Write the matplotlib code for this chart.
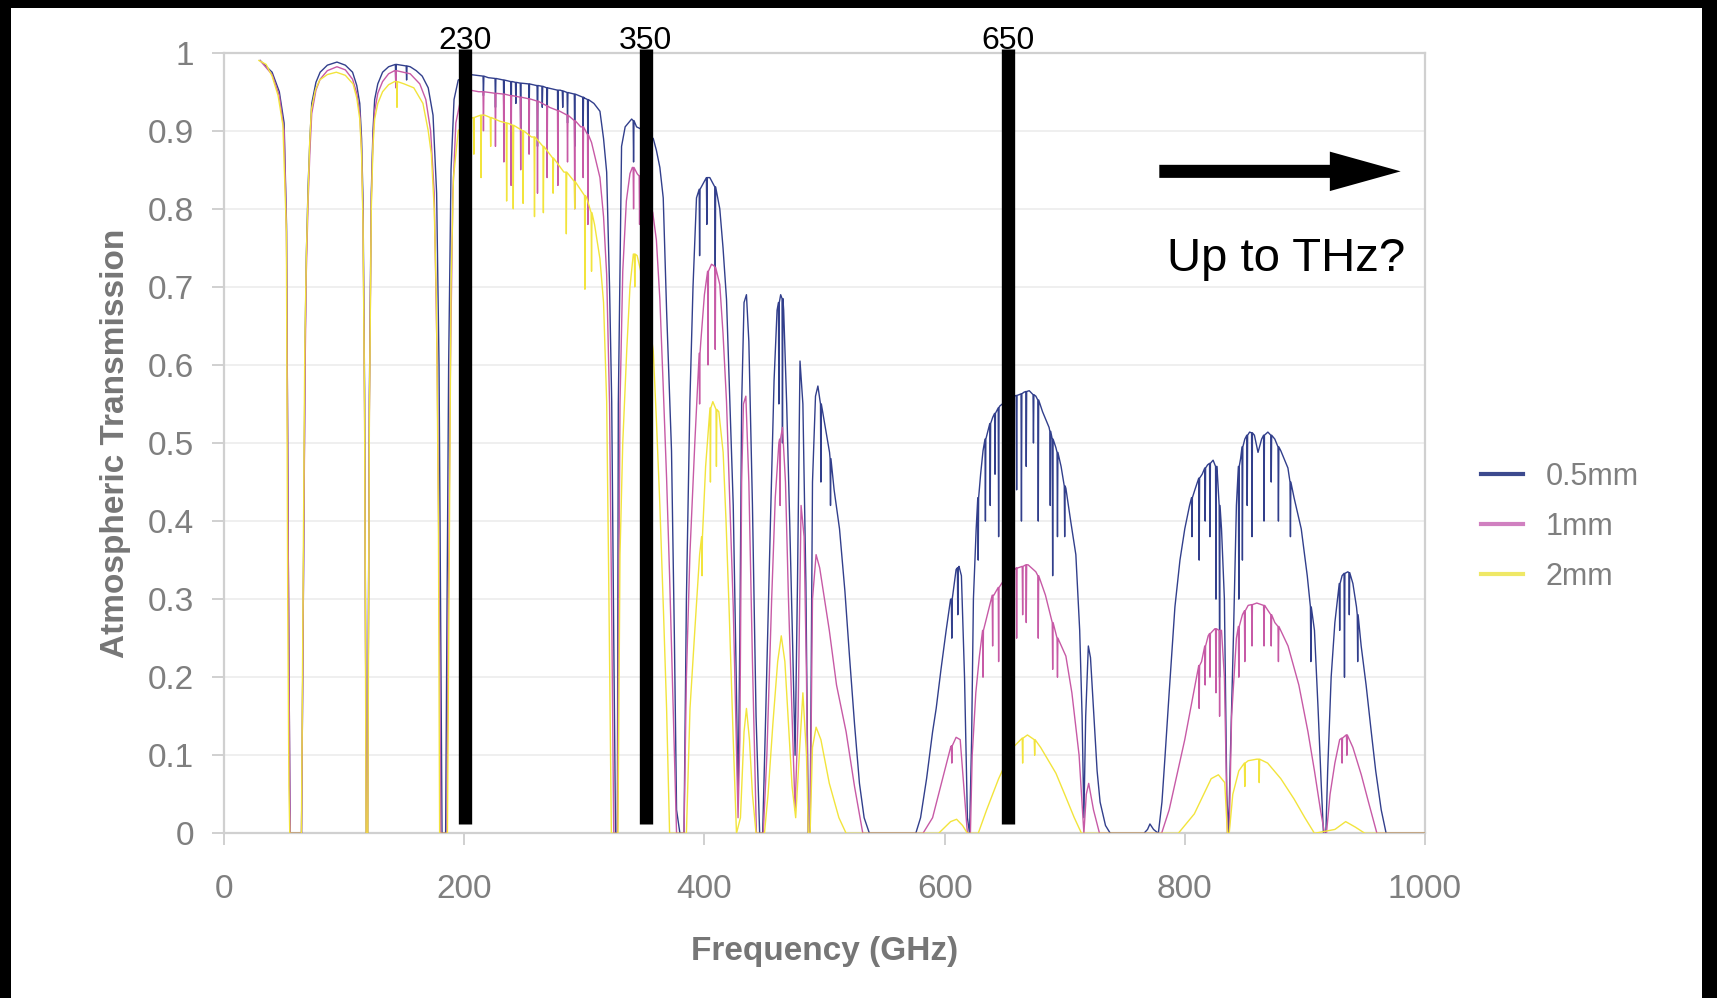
#!/usr/bin/env python3
"""Atmospheric transmission vs frequency for three water-vapour columns,
with the 230 / 350 / 650 GHz bands marked."""

import numpy as np
import matplotlib
matplotlib.use('Agg')
import matplotlib.pyplot as plt
from matplotlib.lines import Line2D
from matplotlib.patches import Rectangle

plt.rcParams['font.family'] = ['Liberation Sans', 'DejaVu Sans']

# Envelope of each curve, (GHz, transmission)
env_05 = [
    (30, 0.99), (40, 0.975), (46, 0.95), (50, 0.91), (52, 0.78), (53.5, 0.35), (55, 0), (64.5, 0),
    (66, 0.3), (67.5, 0.63), (68.5, 0.74), (70, 0.83), (71.5, 0.89), (73, 0.935), (76.5, 0.962),
    (80, 0.975), (86, 0.984), (94, 0.988), (101, 0.984), (107, 0.975), (110.5, 0.958), (113, 0.935),
    (114.5, 0.89), (115.7, 0.81), (117, 0.57), (118.5, 0), (119.5, 0), (121, 0.56), (122.6, 0.82),
    (124, 0.9), (125.4, 0.94), (128, 0.96), (132, 0.975), (137, 0.982), (143.5, 0.985), (155, 0.982),
    (160, 0.977), (165, 0.97), (170, 0.955), (174, 0.92),
    (177, 0.82), (179, 0.6), (180.5, 0.25), (181.5, 0), (184.5, 0), (185.5, 0.25), (187, 0.6),
    (189, 0.85), (191.5, 0.94), (195, 0.965), (205, 0.972), (220, 0.968), (240, 0.963), (260, 0.958),
    (280, 0.952), (300, 0.942), (308, 0.935), (313, 0.925), (316, 0.89), (318.6, 0.847), (321, 0.7),
    (322.8, 0.553), (324.5, 0.25), (326, 0), (327.5, 0), (328.3, 0.55), (331, 0.88), (334, 0.905),
    (339.4, 0.915), (343.5, 0.905), (350, 0.9), (357.4, 0.89), (360, 0.875), (362.9, 0.853),
    (365.7, 0.814), (368.5, 0.67), (372.6, 0.49), (375, 0.25), (376.8, 0.03), (379.6, 0), (383, 0),
    (385, 0.3), (387.9, 0.553), (390.5, 0.7), (393.4, 0.814), (399.5, 0.834), (404.5, 0.84), (408, 0.83),
    (412.8, 0.8), (415.5, 0.75), (418.4, 0.684), (421, 0.56), (424, 0.42), (426.5, 0.2), (428, 0.04),
    (429.5, 0.25), (431, 0.55), (433, 0.68), (435, 0.69), (437, 0.63), (440, 0.42), (443, 0.15),
    (446, 0), (448.5, 0), (451, 0.15), (455, 0.4), (458, 0.58), (460.5, 0.67), (463.5, 0.69),
    (466, 0.67), (468.5, 0.55), (471, 0.4), (473.5, 0.24), (475.5, 0.1), (477.5, 0.32), (479.6, 0.605),
    (482, 0.55), (484.5, 0.32), (486.5, 0), (488, 0), (490, 0.45), (492.5, 0.56), (494.5, 0.573),
    (499, 0.535), (504.2, 0.488), (508, 0.44), (512.5, 0.39), (517, 0.31), (520.8, 0.227), (525, 0.14),
    (529.1, 0.064), (533, 0.02), (537.4, 0), (576, 0), (580, 0.02), (585, 0.07), (590, 0.13),
    (593, 0.16), (597, 0.21), (601.3, 0.26), (605, 0.3), (609.6, 0.338), (612, 0.342), (614, 0.33),
    (616.6, 0.2), (619, 0.02), (620.8, 0), (622.5, 0.12), (624, 0.3), (626.3, 0.39), (630, 0.46),
    (632, 0.49), (636, 0.515), (640.1, 0.533), (645.7, 0.547), (652, 0.555), (658, 0.56),
    (662.2, 0.562), (666, 0.565), (670.5, 0.567), (676, 0.56), (681.6, 0.54), (687, 0.52),
    (692.7, 0.494), (697, 0.47), (701, 0.442), (705, 0.4), (709.3, 0.357), (712.5, 0.26),
    (714.5, 0.15), (716, 0.02), (717.5, 0.15), (719.7, 0.24), (721.5, 0.225), (724, 0.16), (727, 0.08),
    (729.5, 0.04), (734, 0.01), (738, 0), (766, 0), (769, 0.005), (771, 0.012), (774, 0.005), (778, 0),
    (781, 0.04), (783.5, 0.097), (787, 0.18), (791.8, 0.29), (796, 0.35), (800, 0.39), (804, 0.42),
    (808.4, 0.44), (814.5, 0.46), (819, 0.472), (823.6, 0.478), (826.8, 0.47), (830.6, 0.39), (833, 0.3),
    (835, 0.05), (836.5, 0), (838, 0.1), (840.5, 0.25), (843, 0.42), (846.5, 0.48), (850, 0.505),
    (854, 0.514), (858, 0.51), (861, 0.488), (864, 0.505), (869.2, 0.514), (875, 0.505), (880, 0.49),
    (885.9, 0.468), (891, 0.43), (897, 0.39), (902, 0.33), (908, 0.26), (911, 0.16), (913.6, 0.064),
    (915.5, 0), (917.5, 0), (919, 0.08), (921.9, 0.2), (925, 0.27), (927.5, 0.305), (931, 0.33),
    (935.8, 0.335), (940, 0.32), (943, 0.29), (946.9, 0.24), (951, 0.19), (955.3, 0.13), (959, 0.08),
    (963.6, 0.03), (967.7, 0), (1000, 0),
]
env_1 = [
    (30, 0.99), (40, 0.972), (46, 0.945), (50, 0.9), (52, 0.77), (53.5, 0.35), (55, 0), (64.5, 0),
    (66, 0.3), (67.5, 0.6), (68.5, 0.72), (70, 0.81), (71.5, 0.875), (73, 0.922), (76.5, 0.952),
    (80, 0.966), (86, 0.977), (94, 0.982), (101, 0.978), (107, 0.966), (110.5, 0.948), (113, 0.922),
    (114.5, 0.875), (115.7, 0.79), (117, 0.55), (118.5, 0), (119.5, 0), (121, 0.54), (122.6, 0.81),
    (124, 0.89), (125.4, 0.925), (128, 0.948), (132, 0.963), (137, 0.973), (142, 0.977),
    (155, 0.973), (163, 0.96), (168, 0.94), (172, 0.9),
    (175, 0.82), (177.5, 0.6), (179.5, 0.25), (180.5, 0), (185.5, 0), (186.5, 0.25), (188.5, 0.6),
    (190.5, 0.82), (193, 0.91), (197, 0.94), (205, 0.952), (212, 0.95), (240, 0.945), (271, 0.93),
    (297, 0.905), (306, 0.885), (313, 0.84), (316, 0.79), (318.6, 0.716), (321, 0.55), (323, 0.25),
    (324.5, 0), (327.5, 0), (329.7, 0.55), (332, 0.72), (335, 0.81), (338, 0.845), (340, 0.853),
    (344, 0.845), (350, 0.83), (357, 0.795), (360, 0.76), (362.9, 0.684), (365.5, 0.58),
    (368.5, 0.455), (371, 0.33), (374, 0.16), (376.8, 0), (383, 0), (385, 0.2), (387.9, 0.357),
    (392, 0.5), (397, 0.63), (400, 0.69), (405.9, 0.729), (408, 0.727), (412.8, 0.703), (415.5, 0.64),
    (418.4, 0.553), (421, 0.43), (424, 0.29), (426.5, 0.12), (428, 0.02), (429.5, 0.12), (431, 0.45),
    (432.5, 0.55), (434.5, 0.56), (437, 0.45), (440, 0.22), (443.3, 0), (449, 0), (452, 0.1),
    (456, 0.3), (459, 0.43), (462, 0.5), (465, 0.52), (467.5, 0.45), (470, 0.3), (473, 0.15),
    (475.5, 0.03), (478, 0.15), (480.5, 0.42), (483, 0.38), (485, 0.2), (486.5, 0), (488, 0),
    (490, 0.3), (493, 0.357), (496, 0.34), (500, 0.3), (504, 0.26), (510, 0.19), (518, 0.13),
    (525, 0.06), (531.9, 0), (582, 0), (590, 0.02), (595, 0.05), (600, 0.08), (605, 0.11),
    (609.6, 0.123), (613, 0.12), (616, 0.06), (619, 0), (621.5, 0), (623, 0.1), (626, 0.18),
    (629, 0.227), (634, 0.27), (641, 0.305), (651, 0.325), (661, 0.34), (669.5, 0.344), (676, 0.335),
    (684, 0.305), (692, 0.26), (701, 0.227), (706, 0.18), (712, 0.1), (716, 0), (718, 0.05),
    (720, 0.064), (724, 0.03), (729, 0), (780.7, 0), (787, 0.03), (794.6, 0.083), (800, 0.12),
    (808.4, 0.188), (814, 0.22), (819.5, 0.253), (825, 0.262), (830.6, 0.26), (833, 0.2),
    (835.5, 0), (837, 0), (839, 0.15), (843, 0.25), (848, 0.28), (852.8, 0.292), (860, 0.295),
    (866.5, 0.292), (875, 0.27), (886, 0.24), (895, 0.19), (902.6, 0.13), (908, 0.08), (913, 0.03),
    (916.4, 0), (918, 0), (921, 0.05), (925, 0.09), (929, 0.12), (934.4, 0.126), (940, 0.11),
    (947, 0.075), (953, 0.04), (960, 0), (1000, 0),
]
env_2 = [
    (29, 0.99), (35, 0.985), (40, 0.97), (45, 0.945), (49, 0.907), (51.9, 0.77), (53, 0.3),
    (54, 0.06), (54.7, 0), (64.4, 0), (65.5, 0.25), (67.2, 0.62), (68.5, 0.74), (69.9, 0.816),
    (71.3, 0.885), (72.7, 0.927), (76, 0.952), (79.6, 0.965), (86, 0.972), (93.5, 0.975),
    (101, 0.971), (107.4, 0.96), (110.5, 0.942), (113, 0.915), (114.5, 0.87), (115.7, 0.78),
    (117, 0.54), (118.3, 0), (119.7, 0), (121, 0.53), (122.6, 0.8), (124, 0.88), (125.4, 0.915),
    (128, 0.935), (132, 0.95), (137, 0.959), (142, 0.963),
    (150, 0.96), (158, 0.955), (165.6, 0.935), (170, 0.9), (172.6, 0.87), (175, 0.8), (176.8, 0.685),
    (178.5, 0.4), (179.5, 0), (186, 0), (187.5, 0.35), (189, 0.7), (191, 0.84), (195, 0.9),
    (204, 0.915), (217, 0.92), (230, 0.912), (256, 0.892), (283, 0.847), (302, 0.814), (308.5, 0.78),
    (313, 0.736), (316, 0.68), (318.6, 0.553), (320.5, 0.3), (322.5, 0), (328, 0), (329.7, 0.357),
    (332, 0.5), (335.3, 0.618), (338, 0.7), (340.8, 0.742), (344, 0.74), (350, 0.7), (357.4, 0.618),
    (360, 0.53), (362.9, 0.42), (366, 0.28), (368.5, 0.16), (371, 0), (385, 0), (388, 0.16),
    (392, 0.26), (396, 0.357), (401, 0.47), (407, 0.553), (412, 0.54), (415.6, 0.488), (418, 0.4),
    (420.5, 0.29), (424, 0.12), (426.7, 0), (430, 0.02), (433, 0.13), (435, 0.16), (437.5, 0.12),
    (440, 0.05), (443, 0), (450, 0), (453, 0.05), (457, 0.14), (461, 0.22), (464, 0.253),
    (467, 0.22), (470, 0.14), (473, 0.06), (476, 0.02), (479, 0.1), (482, 0.18), (485, 0.1),
    (486.5, 0), (488, 0), (490, 0.11), (493, 0.136), (497, 0.12), (504, 0.064), (512, 0.02),
    (518, 0), (595, 0), (605, 0.015), (610, 0.018), (615, 0.01), (619, 0), (628, 0), (635, 0.03),
    (645, 0.07), (657, 0.11), (669, 0.126), (680, 0.11), (692.7, 0.077), (700, 0.05), (708, 0.02),
    (714, 0), (794.6, 0), (808, 0.025), (822, 0.07), (828, 0.075), (833.3, 0.065), (835.5, 0),
    (837, 0), (840, 0.05), (845, 0.08), (852.8, 0.093), (860, 0.095), (869, 0.09), (880, 0.07),
    (891, 0.044), (900, 0.02), (908, 0), (925, 0.005), (934, 0.015), (942, 0.008), (950, 0),
    (1000, 0),
]

# Narrow absorption lines: (GHz, level beside the line, level at the line bottom)
dips_05 = [
    (143, 0.985, 0.96), (152, 0.983, 0.965), (216, 0.97, 0.945), (226, 0.967, 0.93),
    (233, 0.965, 0.91), (239, 0.963, 0.89), (243, 0.962, 0.935), (247, 0.961, 0.9),
    (254, 0.96, 0.92), (261, 0.958, 0.88), (265, 0.957, 0.93), (269, 0.955, 0.9),
    (278, 0.952, 0.89), (282, 0.951, 0.93), (286, 0.949, 0.91), (292, 0.947, 0.88),
    (299, 0.943, 0.9), (303, 0.94, 0.86), (341, 0.913, 0.86), (396, 0.825, 0.74),
    (402, 0.84, 0.78), (409, 0.828, 0.72), (462, 0.68, 0.55), (465, 0.685, 0.5),
    (497, 0.55, 0.45), (505, 0.48, 0.42), (606, 0.3, 0.25), (611, 0.34, 0.28),
    (628, 0.43, 0.35), (634, 0.505, 0.4), (638, 0.525, 0.42), (642, 0.538, 0.46),
    (645, 0.545, 0.38), (650, 0.552, 0.47), (660, 0.561, 0.44), (664, 0.563, 0.4),
    (668, 0.566, 0.47), (674, 0.562, 0.5), (678, 0.555, 0.4), (688, 0.515, 0.42),
    (690, 0.505, 0.33), (694, 0.488, 0.38), (700, 0.445, 0.38), (806, 0.43, 0.38),
    (812, 0.455, 0.35), (817, 0.468, 0.4), (821, 0.474, 0.38), (826, 0.47, 0.3),
    (829, 0.42, 0.2), (845, 0.47, 0.3), (848, 0.495, 0.35), (852, 0.51, 0.42),
    (856, 0.513, 0.38), (866, 0.51, 0.4), (872, 0.51, 0.45), (878, 0.495, 0.4),
    (888, 0.45, 0.38), (905, 0.29, 0.22), (929, 0.32, 0.26), (933, 0.333, 0.2),
    (937, 0.334, 0.28), (944, 0.28, 0.22),
]
dips_1 = [
    (143, 0.977, 0.955), (216, 0.95, 0.9), (226, 0.948, 0.88), (233, 0.947, 0.86),
    (239, 0.945, 0.83), (247, 0.943, 0.85), (254, 0.941, 0.87), (261, 0.938, 0.82),
    (269, 0.932, 0.84), (278, 0.926, 0.83), (286, 0.92, 0.86), (292, 0.913, 0.8),
    (299, 0.905, 0.84), (303, 0.895, 0.78), (341, 0.853, 0.8), (346, 0.842, 0.78),
    (396, 0.615, 0.55), (403, 0.72, 0.6), (409, 0.725, 0.62), (463, 0.505, 0.42),
    (606, 0.112, 0.09), (632, 0.26, 0.2), (640, 0.305, 0.24), (645, 0.315, 0.22),
    (650, 0.325, 0.26), (656, 0.335, 0.27), (660, 0.34, 0.25), (665, 0.342, 0.28),
    (668, 0.344, 0.27), (678, 0.33, 0.25), (690, 0.27, 0.21), (694, 0.25, 0.2),
    (812, 0.215, 0.16), (817, 0.24, 0.19), (821, 0.256, 0.2), (826, 0.262, 0.18),
    (829, 0.26, 0.15), (845, 0.265, 0.2), (850, 0.285, 0.22), (856, 0.293, 0.24),
    (866, 0.292, 0.24), (872, 0.28, 0.24), (878, 0.265, 0.22), (931, 0.122, 0.09),
    (935, 0.126, 0.1),
]
dips_2 = [
    (144, 0.963, 0.93), (208, 0.917, 0.87), (214, 0.92, 0.84), (222, 0.917, 0.88),
    (235.3, 0.91, 0.81), (240.8, 0.907, 0.8), (249, 0.9, 0.807), (258.5, 0.892, 0.79),
    (265.9, 0.88, 0.795), (274, 0.865, 0.82), (285, 0.847, 0.768), (292, 0.835, 0.8),
    (300.5, 0.817, 0.697), (306, 0.795, 0.72), (342, 0.742, 0.7), (398, 0.38, 0.33),
    (405, 0.545, 0.45), (410, 0.543, 0.47), (665, 0.122, 0.09), (675, 0.12, 0.1),
    (850, 0.09, 0.06), (862, 0.095, 0.065),
]

labels = ['0.5mm', '1mm', '2mm']
colors = ['#323f8c', '#c75aa6', '#f2e43c']
legend_colors = ['#3c4a8e', '#d080c0', '#efe866']

band_freq = [200.5, 351, 652.7]
band_label = ['230', '350', '650']


def build(env, dips):
    pts = list(env)
    for f, top, low in dips:
        pts += [(f - 0.35, top), (f, low), (f + 0.35, top)]
    pts.sort()
    return np.array(pts).T


fig = plt.figure(figsize=(17.17, 9.98), dpi=100, facecolor='black')
fig.patches.append(Rectangle((11 / 1717, 0), 1691 / 1717, 990 / 998,
                             transform=fig.transFigure, facecolor='white',
                             edgecolor='none', zorder=-10))
ax = fig.add_axes([0.1305, 0.165, 0.6994, 0.7822])

for env, dips, c in zip([env_05, env_1, env_2], [dips_05, dips_1, dips_2], colors):
    f, t = build(env, dips)
    ax.plot(f, t, color=c, lw=1.0, zorder=3)

ax.set_xlim(0, 1000)
ax.set_ylim(0, 1)
ax.set_xticks(np.arange(0, 1001, 200))
yt = np.round(np.arange(0, 1.01, 0.1), 1)
ax.set_yticks(yt)
ax.set_yticklabels(['0' if v == 0 else ('1' if v == 1 else f'{v:g}') for v in yt])
ax.yaxis.grid(True, color='#ececec', lw=1.2)
ax.set_axisbelow(True)
for s in ax.spines.values():
    s.set_color('#d0d0d0')
    s.set_linewidth(1.6)
ax.tick_params(axis='both', direction='out', length=8.6, width=1.2, color='#c8c8c8',
               labelcolor='#7f7f7f', labelsize=24)
ax.tick_params(axis='x', pad=21)
ax.tick_params(axis='y', pad=13)

ax.set_xlabel('Frequency (GHz)', fontsize=24, fontweight='bold', color='#767676')
ax.set_ylabel('Atmospheric Transmission', fontsize=24, fontweight='bold', color='#767676')
ax.xaxis.set_label_coords(0.5, -0.151)
ax.yaxis.set_label_coords(-0.0908, 0.5)
ax.xaxis.label.set_va('center')
ax.yaxis.label.set_va('center')

handles = [Line2D([], [], color=c, lw=3) for c in legend_colors]
leg = ax.legend(handles, labels, loc='center left', bbox_to_anchor=(0.8626, 0.4723),
                bbox_transform=fig.transFigure, frameon=False, fontsize=22,
                handlelength=1.36, handletextpad=0.75, labelspacing=0.65,
                borderpad=0, borderaxespad=0)
for t in leg.get_texts():
    t.set_color('#7f7f7f')

# black bars marking the observing bands
for f, lab in zip(band_freq, band_label):
    ax.plot([f, f], [0.012, 1.005], color='black', lw=9.6, solid_capstyle='butt',
            clip_on=False, zorder=6)
    ax.text(f, 1.005, lab, ha='center', va='baseline', fontsize=23, color='black',
            clip_on=False, zorder=7)

ax.annotate('', xy=(979.8, 0.848), xytext=(778.8, 0.848),
            arrowprops=dict(facecolor='black', edgecolor='none', width=9.4,
                            headwidth=28.4, headlength=51, shrink=0))
ax.text(983.4, 0.72, 'Up to THz?', ha='right', va='baseline', fontsize=34, color='black')

fig.savefig('out.png', dpi=100, facecolor=fig.get_facecolor())
